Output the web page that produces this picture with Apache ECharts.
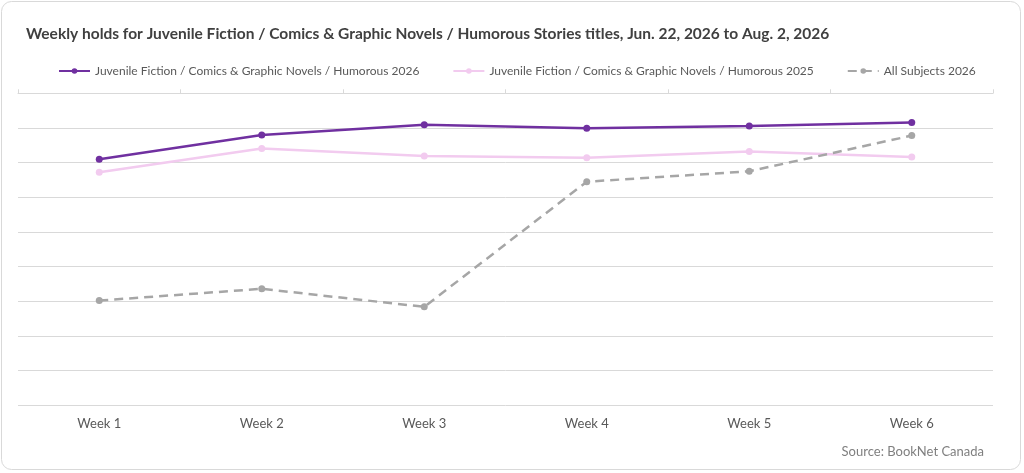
<!DOCTYPE html>
<html>
<head>
<meta charset="utf-8">
<script src="https://cdn.jsdelivr.net/npm/echarts@6/dist/echarts.min.js"></script>
<style>
    html, body { margin: 0; padding: 0; background: #fff; }
    #chart { width: 1024px; height: 473px; }
</style>
</head>
<body>
<div id="chart"></div>
<script>
// data (no y labels, scale is relative)
let weeks = ["Week 1", "Week 2", "Week 3", "Week 4", "Week 5", "Week 6"];
let holds2026 = [71.0, 78.0, 80.9, 79.9, 80.6, 81.6];
let holds2025 = [67.2, 74.1, 71.9, 71.4, 73.2, 71.6];
let allSubjects2026 = [30.2, 33.6, 28.4, 64.5, 67.5, 77.8];

let seriesNames = [
    "Juvenile Fiction / Comics & Graphic Novels / Humorous 2026",
    "Juvenile Fiction / Comics & Graphic Novels / Humorous 2025",
    "All Subjects 2026"
];

let font = "Lato, 'Open Sans', sans-serif";
let chart = echarts.init(document.getElementById("chart"));

function lineSeries(name, data, color, dashed) {
    return {
        name: name,
        type: "line",
        data: data,
        symbol: "circle",
        symbolSize: 7,
        showSymbol: true,
        itemStyle: {color: color},
        lineStyle: {color: color, width: 2.5, type: dashed ? [9, 6] : "solid"},
        emphasis: {disabled: true},
        animation: false
    };
}

let option = {
    backgroundColor: "#fff",
    title: {
        text: "Weekly holds for Juvenile Fiction / Comics & Graphic Novels / Humorous Stories titles, Jun. 22, 2026 to Aug. 2, 2026",
        left: 21,
        top: 21,
        textStyle: {fontFamily: font, fontSize: 15.5, fontWeight: "bold", color: "#404040"}
    },
    legend: {
        top: 60,
        left: 53,
        itemWidth: 31,
        itemHeight: 7,
        itemGap: 33,
        textStyle: {fontFamily: font, fontSize: 12, color: "#595959"},
        data: seriesNames
    },
    grid: {left: 18, right: 31, top: 93.3, bottom: 67.7},
    xAxis: [
        {
            type: "category",
            data: weeks,
            boundaryGap: true,
            axisLine: {show: false},
            axisTick: {show: false},
            axisLabel: {fontFamily: font, fontSize: 13, color: "#595959", margin: 12}
        },
        {
            type: "category",
            data: weeks,
            position: "top",
            boundaryGap: true,
            axisLine: {show: true, lineStyle: {color: "#d9d9d9"}},
            axisTick: {show: true, length: 4, lineStyle: {color: "#d9d9d9"}},
            axisLabel: {show: false}
        }
    ],
    yAxis: {
        type: "value",
        min: 0,
        max: 90,
        interval: 10,
        axisLabel: {show: false},
        axisLine: {show: false},
        axisTick: {show: false},
        splitLine: {lineStyle: {color: "#d9d9d9", width: 1}}
    },
    graphic: [
        {
            type: "rect",
            shape: {x: 1.5, y: 1.5, width: 1019, height: 468, r: 10},
            style: {fill: "none", stroke: "#d9d9d9", lineWidth: 1},
            silent: true
        },
        {
            type: "text",
            right: 40,
            top: 445,
            style: {text: "Source: BookNet Canada", font: "13px " + font, fill: "#7f7f7f"},
            silent: true
        }
    ],
    series: [
        lineSeries(seriesNames[0], holds2026, "#7030a0", false),
        lineSeries(seriesNames[1], holds2025, "#f2cbef", false),
        lineSeries(seriesNames[2], allSubjects2026, "#a6a6a6", true)
    ]
};
chart.setOption(option);
</script>
</body>
</html>
